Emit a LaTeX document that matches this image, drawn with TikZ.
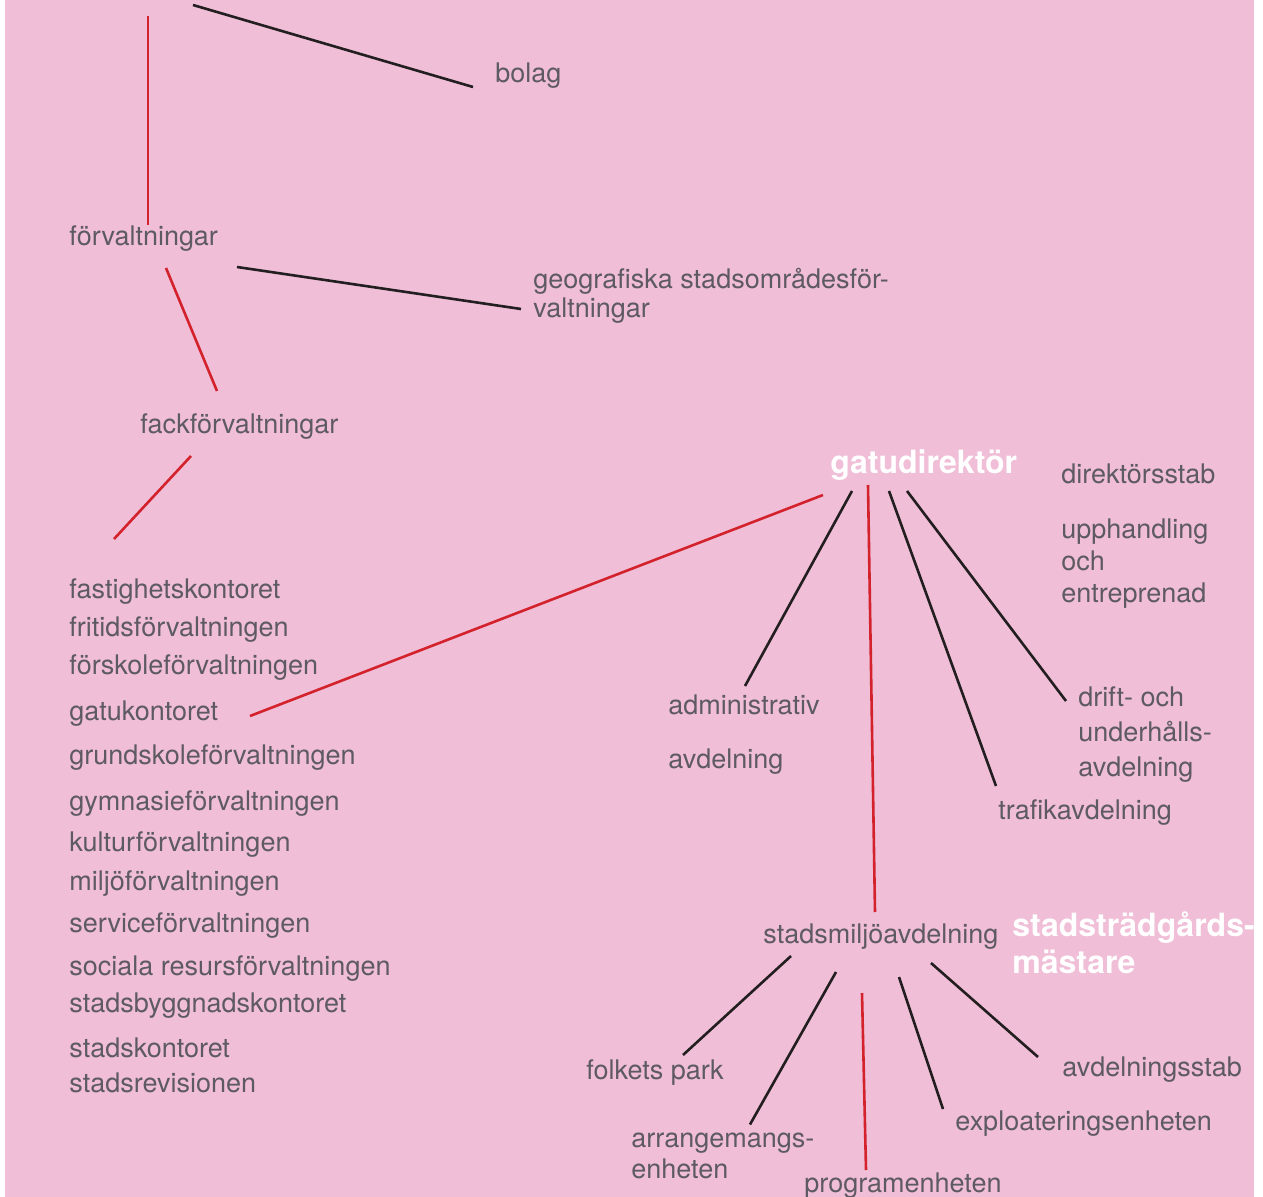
\documentclass[tikz,border=0pt]{standalone}
\usepackage{fontspec}
\setmainfont{TeX Gyre Heros}
\usepackage{tikz}
\usetikzlibrary{calc}

\definecolor{rosa}{RGB}{240,190,215}
\definecolor{gra}{RGB}{94,90,97}
\definecolor{rod}{RGB}{212,34,45}
\definecolor{svart}{RGB}{35,31,32}

\begin{document}
\begin{tikzpicture}[x=0.5pt, y=-0.5pt,
    bas/.style={inner sep=0pt, anchor=west, text=gra, font=\fontsize{13.5}{14.5}\selectfont},
    lbl/.style={bas, text height=12.7pt, text depth=2.9pt},
    lbl2/.style={bas, align=left},
    rubrik/.style={inner sep=0pt, anchor=west, text=white, align=left, font=\fontsize{16}{18.5}\selectfont\bfseries},
    rodlinje/.style={draw=rod, line width=1.3pt},
    svartlinje/.style={draw=svart, line width=1.3pt}]
  \useasboundingbox (0,0) rectangle (1263,1197);
  \fill[rosa] (5,0) rectangle (1254,1197);
  % top level
  \coordinate (topr) at (148,16);
  \coordinate (topb) at (193,5);
  \node[lbl] (bolag) at (495,73) {bolag};
  \node[lbl] (forv) at (69,236) {förvaltningar};
  \node[lbl2] (geo) at (533,296) {geografiska stadsområdesför-\\valtningar};
  \node[lbl] (fack) at (140,424) {fackförvaltningar};
  % fackforvaltningar
  \node[lbl] (fastighet) at (69,589) {fastighetskontoret};
  \node[lbl] (fritid) at (69,627) {fritidsförvaltningen};
  \node[lbl] (forskola) at (69,665) {förskoleförvaltningen};
  \node[lbl] (gatukontor) at (69,711) {gatukontoret};
  \node[lbl] (grundskola) at (69,755) {grundskoleförvaltningen};
  \node[lbl] (gymnasie) at (69,801) {gymnasieförvaltningen};
  \node[lbl] (kultur) at (69,842) {kulturförvaltningen};
  \node[lbl] (miljo) at (69,881) {miljöförvaltningen};
  \node[lbl] (service) at (69,923) {serviceförvaltningen};
  \node[lbl] (sociala) at (69,966) {sociala resursförvaltningen};
  \node[lbl] (stadsbygg) at (69,1003) {stadsbyggnadskontoret};
  \node[lbl] (stadskontor) at (69,1048) {stadskontoret};
  \node[lbl] (revision) at (69,1083) {stadsrevisionen};
  % gatukontoret
  \node[rubrik, text height=14.5pt, text depth=3.4pt] (gd) at (830,462) {gatudirektör};
  \node[lbl] (dirstab) at (1061,474) {direktörsstab};
  \node[lbl2] (upph) at (1061,564) {upphandling\\[1.5pt]och\\[1.5pt]entreprenad};
  \node[lbl2] (adm) at (668,735) {administrativ\\[12.5pt]avdelning};
  \node[lbl2] (drift) at (1078,735) {drift- och\\[3pt]underhålls-\\[3pt]avdelning};
  \node[lbl] (trafik) at (998,810) {trafikavdelning};
  \node[lbl] (smiljo) at (763,934) {stadsmiljöavdelning};
  \node[rubrik] (stg) at (1012,943) {stadsträdgårds-\\mästare};
  % stadsmiljoavdelning
  \node[lbl] (folkets) at (586,1070) {folkets park};
  \node[lbl2] (arr) at (631,1155.5) {arrangemangs-\\[1pt]enheten};
  \node[lbl] (prog) at (804,1183) {programenheten};
  \node[lbl] (expl) at (955,1121) {exploateringsenheten};
  \node[lbl] (avdstab) at (1062,1067) {avdelningsstab};
  % connectors
  \draw[rodlinje] (topr) -- ([shift={(79,-11)}]forv.west);
  \draw[svartlinje] (topb) -- ([shift={(-22,14)}]bolag.west);
  \draw[svartlinje] ([shift={(168,31)}]forv.west) -- ([shift={(-12,13)}]geo.west);
  \draw[rodlinje] ([shift={(97,32)}]forv.west) -- ([shift={(77,-33)}]fack.west);
  \draw[rodlinje] ([shift={(51,32)}]fack.west) -- ([shift={(45,-50)}]fastighet.west);
  \draw[rodlinje] ([shift={(181,5)}]gatukontor.west) -- ([shift={(-7,33)}]gd.west);
  \draw[svartlinje] ([shift={(22,29)}]gd.west) -- ([shift={(77,-49)}]adm.west);
  \draw[rodlinje] ([shift={(38,23)}]gd.west) -- ([shift={(112,-22)}]smiljo.west);
  \draw[svartlinje] ([shift={(59,29)}]gd.west) -- ([shift={(-2,-24)}]trafik.west);
  \draw[svartlinje] ([shift={(77,29)}]gd.west) -- ([shift={(-12,-34)}]drift.west);
  \draw[svartlinje] ([shift={(28,22)}]smiljo.west) -- ([shift={(97,-15)}]folkets.west);
  \draw[svartlinje] ([shift={(73,38)}]smiljo.west) -- ([shift={(119,-31)}]arr.west);
  \draw[rodlinje] ([shift={(99,59)}]smiljo.west) -- ([shift={(62,-13)}]prog.west);
  \draw[svartlinje] ([shift={(136,43)}]smiljo.west) -- ([shift={(-12,-12)}]expl.west);
  \draw[svartlinje] ([shift={(168,29)}]smiljo.west) -- ([shift={(-24,-10)}]avdstab.west);
\end{tikzpicture}
\end{document}
